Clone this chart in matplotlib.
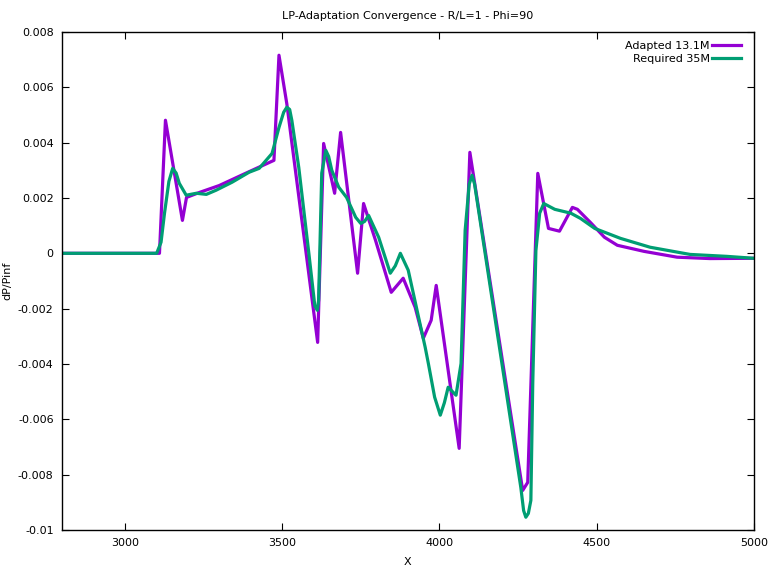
import matplotlib
matplotlib.use("Agg")
import matplotlib.pyplot as plt

# --- Adapted 13.1M (coarse, piecewise) ---
adapted_x = [2800, 3110, 3129, 3183, 3196, 3237, 3300, 3395, 3474, 3490, 3515,
             3613, 3632, 3667, 3686, 3740, 3759, 3797, 3847, 3885, 3923, 3949,
             3974, 3990, 4063, 4097, 4265, 4281, 4313, 4347, 4382, 4423, 4439,
             4480, 4525, 4566, 4651, 4756, 4860, 5000]
adapted_y = [0, 0, 4.81e-3, 1.19e-3, 2.02e-3, 2.2e-3, 2.45e-3, 2.95e-3, 3.36e-3,
             7.16e-3, 5.4e-3, -3.22e-3, 3.97e-3, 2.17e-3, 4.37e-3, -0.72e-3,
             1.8e-3, 0.47e-3, -1.41e-3, -0.9e-3, -1.95e-3, -3.07e-3, -2.42e-3,
             -1.16e-3, -7.05e-3, 3.65e-3, -8.57e-3, -8.28e-3, 2.89e-3, 0.9e-3,
             0.8e-3, 1.66e-3, 1.59e-3, 1.12e-3, 0.58e-3, 0.29e-3, 0.07e-3,
             -0.14e-3, -0.19e-3, -0.18e-3]

# --- Required 35M (smooth) ---
required_x = [2800, 3101, 3115, 3126, 3140, 3152, 3163, 3173, 3195, 3227, 3259,
              3290, 3341, 3395, 3427, 3468, 3490, 3505, 3515, 3524, 3531, 3553,
              3585, 3604, 3612, 3616, 3626, 3639, 3648, 3658, 3680, 3705, 3734,
              3750, 3762, 3775, 3807, 3844, 3860, 3876, 3901, 3955, 3965, 3985,
              4003, 4016, 4028, 4053, 4069, 4082, 4095, 4104, 4112, 4259, 4268,
              4275, 4283, 4291, 4297, 4307, 4319, 4332, 4367, 4418, 4449, 4494,
              4576, 4670, 4797, 4914, 5000]
required_y = [0, 0, 0.4e-3, 1.45e-3, 2.6e-3, 3.07e-3, 2.9e-3, 2.53e-3, 2.1e-3,
              2.17e-3, 2.13e-3, 2.28e-3, 2.57e-3, 2.93e-3, 3.07e-3, 3.61e-3,
              4.55e-3, 5.1e-3, 5.28e-3, 5.2e-3, 4.8e-3, 3.1e-3, 0, -1.9e-3,
              -2.06e-3, -1.7e-3, 2.9e-3, 3.72e-3, 3.5e-3, 3.0e-3, 2.39e-3,
              2.02e-3, 1.3e-3, 1.08e-3, 1.15e-3, 1.37e-3, 0.58e-3, -0.72e-3,
              -0.45e-3, 0, -0.61e-3, -3.4e-3, -3.98e-3, -5.2e-3, -5.85e-3,
              -5.4e-3, -4.84e-3, -5.13e-3, -3.98e-3, 0.83e-3, 2.5e-3, 2.82e-3,
              2.5e-3, -8.46e-3, -9.3e-3, -9.54e-3, -9.4e-3, -8.93e-3, -4.7e-3,
              0.1e-3, 1.45e-3, 1.8e-3, 1.59e-3, 1.45e-3, 1.26e-3, 0.9e-3,
              0.54e-3, 0.22e-3, -0.04e-3, -0.11e-3, -0.18e-3]

x_ticks = [3000, 3500, 4000, 4500, 5000]
y_ticks = [0.008, 0.006, 0.004, 0.002, 0, -0.002, -0.004, -0.006, -0.008, -0.01]
y_labels = ["0.008", "0.006", "0.004", "0.002", "0", "-0.002", "-0.004",
            "-0.006", "-0.008", "-0.01"]

fig = plt.figure(figsize=(7.7, 5.67), dpi=100)
ax = fig.add_axes([0.0805, 0.0653, 0.8985, 0.8783])

ax.plot(adapted_x, adapted_y, color="#9400D3", lw=2.3, label="Adapted 13.1M")
ax.plot(required_x, required_y, color="#009E73", lw=2.3, label="Required 35M")

ax.set_xlim(2800, 5000)
ax.set_ylim(-0.01, 0.008)
ax.set_xticks(x_ticks)
ax.set_yticks(y_ticks)
ax.set_yticklabels(y_labels)
ax.tick_params(direction="in", length=5, width=0.8, top=True, right=True,
               labelsize=8, pad=6)
for s in ax.spines.values():
    s.set_linewidth(1.0)

ax.set_title("LP-Adaptation Convergence - R/L=1 - Phi=90", fontsize=8, pad=9)
ax.set_xlabel("X", fontsize=8, labelpad=6)
ax.set_ylabel("dP/Pinf", fontsize=8, labelpad=4)

ax.legend(loc="upper right", bbox_to_anchor=(0.993, 0.998), fontsize=8,
          frameon=False, markerfirst=False, handlelength=2.6,
          handletextpad=0.25, borderaxespad=0.3, labelspacing=0.3)

fig.savefig("out.png", dpi=100)
